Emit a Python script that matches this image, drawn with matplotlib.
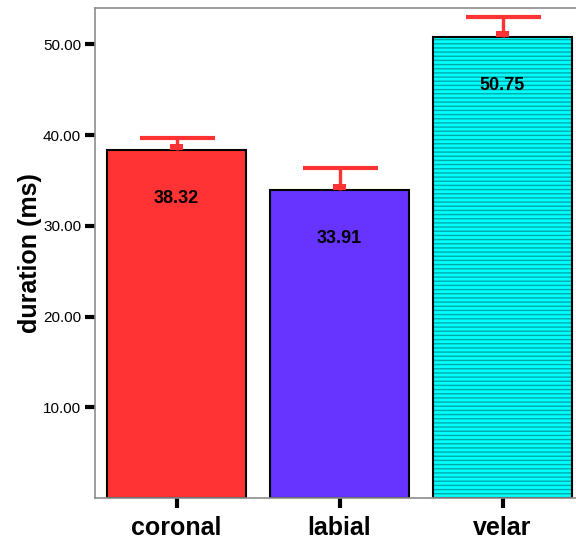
import matplotlib
matplotlib.use("Agg")
import matplotlib.pyplot as plt
import numpy as np

categories = ["coronal", "labial", "velar"]
means = [38.32, 33.91, 50.75]
upper = [39.72, 36.37, 53.0]
colors = ["#FF3333", "#6633FF", "#00FFFF"]
yticks = [10, 20, 30, 40, 50]

plt.rcParams['font.family'] = ['Liberation Sans', 'DejaVu Sans']
plt.rcParams['hatch.linewidth'] = 1.0

fig = plt.figure(figsize=(5.76, 5.39), dpi=100)
ax = fig.add_axes([95/576, 41/539, (576-95)/576, (498-8)/539])

x = np.arange(len(categories))
bars = ax.bar(x, means, width=139/163, color=colors, edgecolor="black", linewidth=1.5, zorder=2)
bars[2].set_hatch("----")
bars[2]._hatch_color = matplotlib.colors.to_rgba("#00A8A8")

# error bars (upper only)
err_up = [u - m for u, m in zip(upper, means)]
_, caps, _ = ax.errorbar(x, means, yerr=[np.zeros(len(means)), err_up], fmt="none",
                         ecolor="#FF3333", elinewidth=2.4, capsize=27, capthick=3.0, zorder=3)
caps[0].set_visible(False)
ax.bar(x, [0.7]*len(means), bottom=means, width=13/163, color="#FF3333", linewidth=0, zorder=3)

for xi, m in zip(x, means):
    ax.annotate(f"{m:.2f}", (xi, m), xytext=(0, -48), textcoords="offset pixels",
                ha="center", va="center", fontsize=13, fontweight="bold", zorder=4)

ax.set_xlim(-0.5, (576-176.5)/163)
ax.set_ylim(0, 54)
ax.set_yticks(yticks)
ax.set_yticklabels([f"{v:.2f}" for v in yticks], fontsize=11)
ax.set_xticks(x)
ax.set_xticklabels(categories, fontsize=18, fontweight="bold")
ax.tick_params(axis="both", direction="out", length=7, width=3, color="black")
ax.tick_params(axis="x", pad=6)
ax.tick_params(axis="y", pad=3)
ax.set_ylabel("duration (ms)", fontsize=18, fontweight="bold", labelpad=1)

for s in ["left", "bottom", "top"]:
    ax.spines[s].set_color("#8C8C8C")
    ax.spines[s].set_linewidth(1.2)
ax.spines["right"].set_visible(False)

fig.savefig("out.png", dpi=100)
